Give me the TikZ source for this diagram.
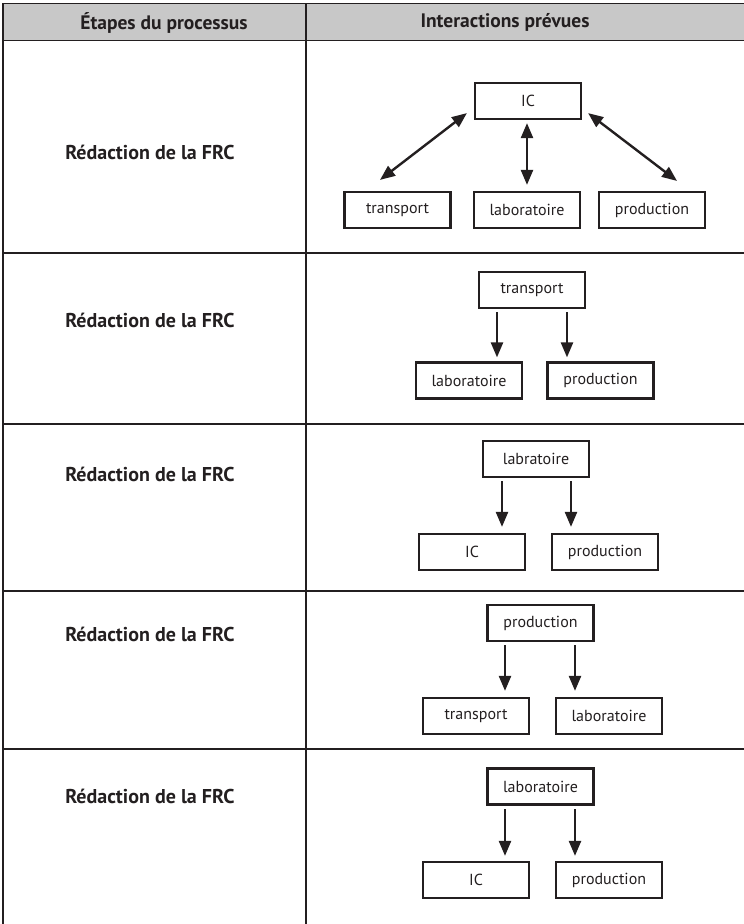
\documentclass[tikz,border=0pt]{standalone}
\usepackage{fontspec}
\setmainfont{PT Sans}
\usetikzlibrary{arrows.meta}
\definecolor{ink}{HTML}{231F20}
\definecolor{headfill}{HTML}{C8C8C8}
\tikzset{
  box/.style={draw=ink, line width=2.2bp, minimum width=106bp, minimum height=36bp,
    inner sep=0pt, font=\fontsize{16bp}{19bp}\selectfont, text=ink},
  steptext/.style={font=\bfseries\fontsize{20bp}{24bp}\selectfont, text=ink},
  headtext/.style={font=\bfseries\fontsize{19.5bp}{23bp}\selectfont, text=ink},
  rule/.style={draw=ink, line width=1.3bp},
  arr/.style={draw=ink, line width=2.4bp, -{Triangle[length=15bp,width=12bp]}},
  dblarr/.style={draw=ink, line width=2.4bp, {Triangle[length=15bp,width=12bp]}-{Triangle[length=15bp,width=12bp]}},
}
\begin{document}
\begin{tikzpicture}[x=1bp, y=-1bp]
\useasboundingbox (0,0) rectangle (744,924);
% header band and table rules
\fill[headfill] (3,3.5) rectangle (744,40.5);
\draw[rule] (744,3.5) -- (3,3.5) -- (3,924);
\draw[rule] (306,3.5) -- (306,924);
\draw[rule] (3,40.5) -- (744,40.5);
\foreach \yy in {253,424,591,749} \draw[rule] (3,\yy) -- (744,\yy);

\node[headtext] (h1) at (164,22.5) {Étapes du processus};
\node[headtext] (h2) at (505,22.5) {Interactions prévues};

\node[steptext] (s1) at (150,152) {Rédaction de la FRC};
\node[steptext] (s2) at (150,320) {Rédaction de la FRC};
\node[steptext] (s3) at (150,474) {Rédaction de la FRC};
\node[steptext] (s4) at (150,634) {Rédaction de la FRC};
\node[steptext] (s5) at (150,796) {Rédaction de la FRC};

% row 1: IC exchanges with the three services
\node[box] (ic1) at (528,101) {IC};
\node[box] (tr1) at (397.5,210) {transport};
\node[box] (lab1) at (527,210) {laboratoire};
\node[box] (pr1) at (652,210) {production};
\draw[dblarr] ([xshift=-17.5bp,yshift=11bp]tr1.north) -- ([xshift=-7bp,yshift=7bp]ic1.south west);
\draw[dblarr] ([xshift=-1bp,yshift=-3bp]ic1.south) -- ([xshift=-1bp,yshift=6bp]ic1.south |- lab1.north);
\draw[dblarr] ([xshift=6bp,yshift=7bp]ic1.south east) -- ([xshift=25bp,yshift=10bp]pr1.north);

% row 2
\node[box] (tr2) at (532,290) {transport};
\node[box] (lab2) at (469,380.5) {laboratoire};
\node[box] (pr2) at (600.5,380.5) {production};
\draw[arr] ([xshift=-35bp,yshift=-3bp]tr2.south) -- ([xshift=-35bp,yshift=4bp]tr2.south |- lab2.north);
\draw[arr] ([xshift=35bp,yshift=-3bp]tr2.south) -- ([xshift=35bp,yshift=4bp]tr2.south |- pr2.north);

% row 3
\node[box] (lab3) at (536,459) {labratoire};
\node[box] (ic3) at (472,552) {IC};
\node[box] (pr3) at (605,552) {production};
\draw[arr] ([xshift=-34bp,yshift=-3bp]lab3.south) -- ([xshift=-34bp,yshift=6bp]lab3.south |- ic3.north);
\draw[arr] ([xshift=35bp,yshift=-3bp]lab3.south) -- ([xshift=35bp,yshift=6bp]lab3.south |- pr3.north);

% row 4
\node[box] (pr4) at (540.5,623) {production};
\node[box] (tr4) at (476,716) {transport};
\node[box] (lab4) at (609,716) {laboratoire};
\draw[arr] ([xshift=-35.5bp,yshift=-3bp]pr4.south) -- ([xshift=-35.5bp,yshift=6bp]pr4.south |- tr4.north);
\draw[arr] ([xshift=34.5bp,yshift=-3bp]pr4.south) -- ([xshift=34.5bp,yshift=6bp]pr4.south |- lab4.north);

% row 5
\node[box] (lab5) at (540.5,786.5) {laboratoire};
\node[box] (ic5) at (476,880) {IC};
\node[box] (pr5) at (609,880) {production};
\draw[arr] ([xshift=-35.5bp,yshift=-3.5bp]lab5.south) -- ([xshift=-35.5bp,yshift=5bp]lab5.south |- ic5.north);
\draw[arr] ([xshift=34.5bp,yshift=-3.5bp]lab5.south) -- ([xshift=34.5bp,yshift=5bp]lab5.south |- pr5.north);
\end{tikzpicture}
\end{document}
